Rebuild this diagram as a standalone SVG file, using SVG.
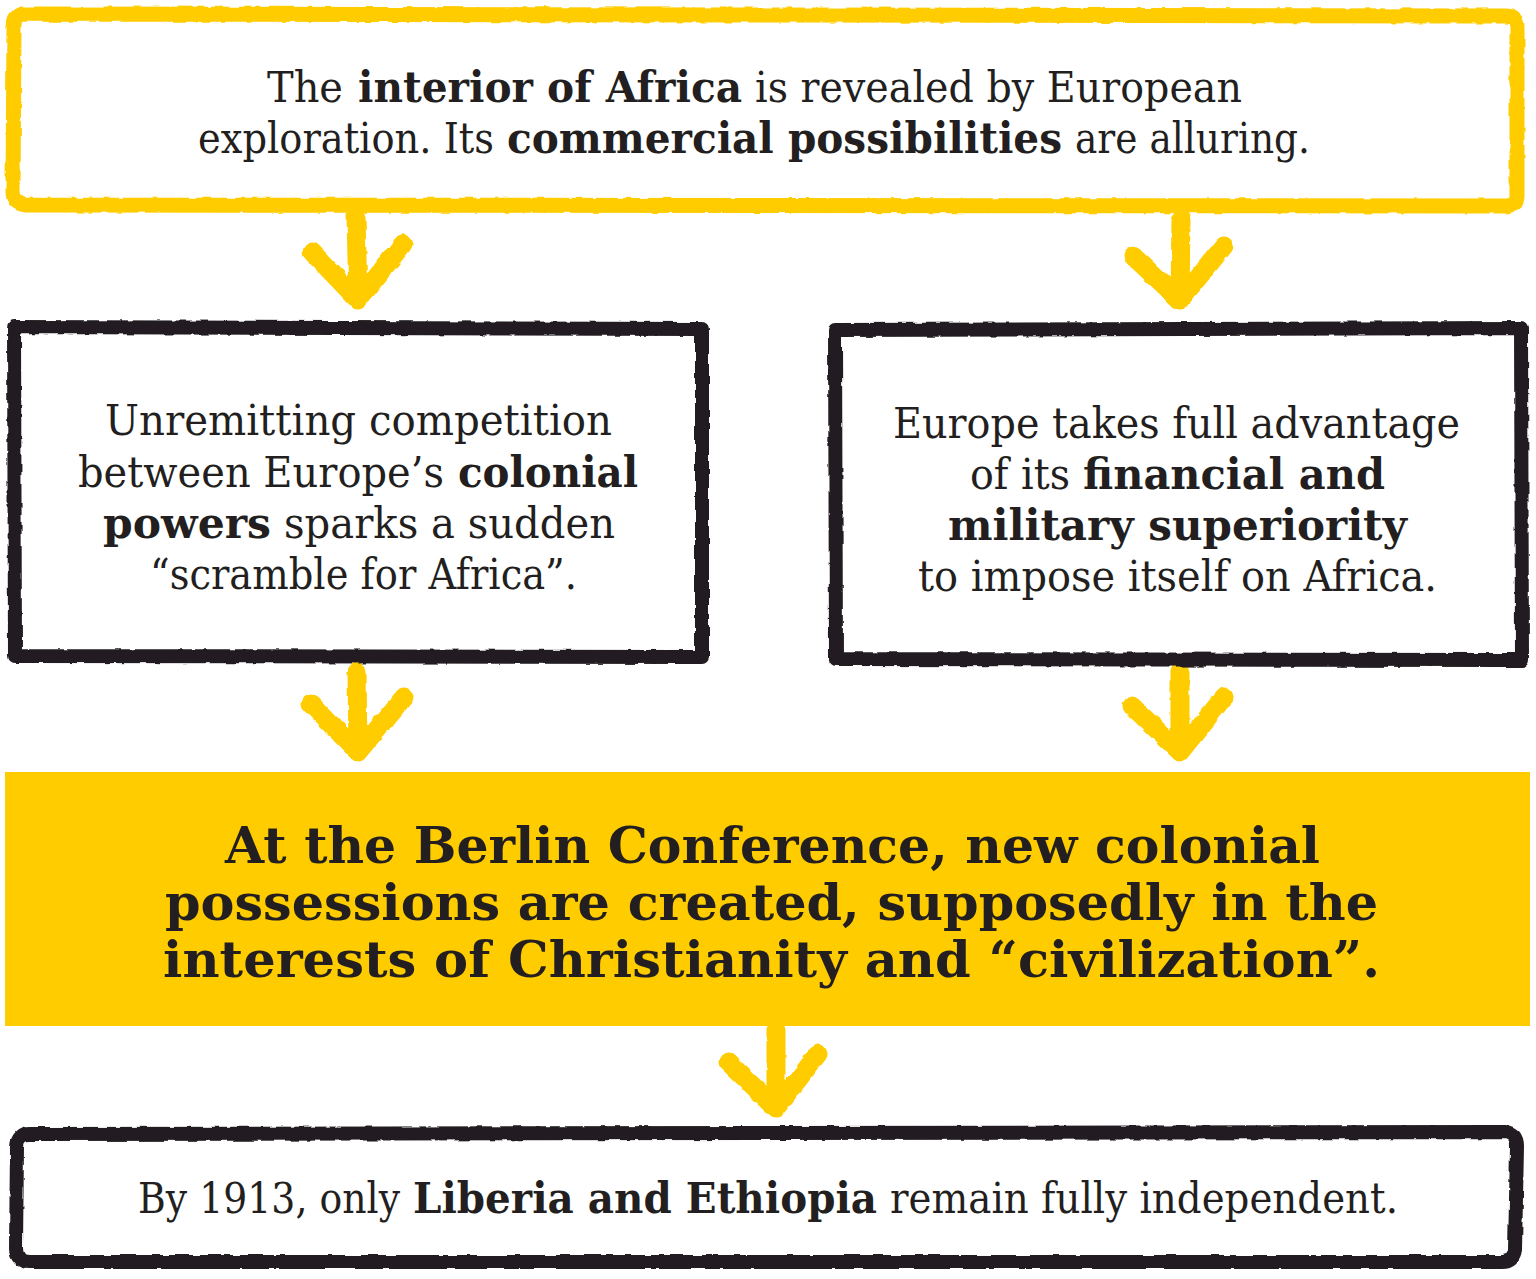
<svg xmlns="http://www.w3.org/2000/svg" width="1536" height="1279" viewBox="0 0 1536 1279">
<defs>
<filter id="rough" x="-5%" y="-5%" width="110%" height="110%">
<feTurbulence type="fractalNoise" baseFrequency="0.08" numOctaves="2" seed="3" result="n"/>
<feDisplacementMap in="SourceGraphic" in2="n" scale="4" xChannelSelector="R" yChannelSelector="G"/>
</filter>
<style>
.ybox{fill:#fff;stroke:#FFCC00;stroke-width:15;stroke-linejoin:round}
.kbox{fill:#fff;stroke:#231F20;stroke-width:14;stroke-linejoin:round}
.arr{fill:none;stroke:#FFCC00;stroke-width:19;stroke-linecap:round;stroke-linejoin:round}
.t{font-family:"DejaVu Serif","Liberation Serif",serif;font-size:43px;fill:#231F20}
.b{font-weight:bold}
.tb{font-family:"DejaVu Serif","Liberation Serif",serif;font-size:51px;font-weight:bold;fill:#231F20}
</style>
</defs>
<rect width="1536" height="1279" fill="#fff"/>

<g id="connectors" filter="url(#rough)">
<path class="arr" d="M356 216 L358 300 M312 252 L358 300 L403 244"/>
<path class="arr" d="M1181 220 L1180 300 M1133 256 L1180 300 L1224 246"/>
<path class="arr" d="M357 672 L358 752 M311 704 L358 752 L404 697"/>
<path class="arr" d="M1180 672 L1180 752 M1132 706 L1180 752 L1224 697"/>
<path class="arr" d="M776 1030 L776 1108 M728 1062 L776 1108 L818 1054"/>
</g>

<g id="node-top">
<path class="ybox" filter="url(#rough)" d="M24 14 L1506 16 Q1517 16 1517 27 L1517 196 Q1517 205 1506 206 L26 205 Q13 204 13 192 L14 26 Q14 14 24 14 Z"/>
<text class="t" x="267" y="102" textLength="76" lengthAdjust="spacingAndGlyphs">The</text>
<text class="t b" x="358" y="102" textLength="384" lengthAdjust="spacingAndGlyphs">interior of Africa</text>
<text class="t" x="755" y="102" textLength="487" lengthAdjust="spacingAndGlyphs">is revealed by European</text>
<text class="t" x="198" y="153" textLength="296" lengthAdjust="spacingAndGlyphs">exploration. Its</text>
<text class="t b" x="507" y="153" textLength="555" lengthAdjust="spacingAndGlyphs">commercial possibilities</text>
<text class="t" x="1075" y="153" textLength="235" lengthAdjust="spacingAndGlyphs">are alluring.</text>
</g>

<g id="node-left">
<path class="kbox" filter="url(#rough)" d="M14 327 L702 329 L702 657 L15 656 Z"/>
<text class="t" x="105" y="435" textLength="507" lengthAdjust="spacingAndGlyphs">Unremitting competition</text>
<text class="t" x="78" y="487" textLength="366" lengthAdjust="spacingAndGlyphs">between Europe’s</text>
<text class="t b" x="458" y="487" textLength="180" lengthAdjust="spacingAndGlyphs">colonial</text>
<text class="t b" x="103" y="538" textLength="168" lengthAdjust="spacingAndGlyphs">powers</text>
<text class="t" x="284" y="538" textLength="331" lengthAdjust="spacingAndGlyphs">sparks a sudden</text>
<text class="t" x="150" y="589" textLength="427" lengthAdjust="spacingAndGlyphs">“scramble for Africa”.</text>
</g>

<g id="node-right">
<path class="kbox" filter="url(#rough)" d="M835 330 L1521 328 L1522 660 L836 659 Z"/>
<text class="t" x="893" y="438" textLength="567" lengthAdjust="spacingAndGlyphs">Europe takes full advantage</text>
<text class="t" x="970" y="489" textLength="100" lengthAdjust="spacingAndGlyphs">of its</text>
<text class="t b" x="1083" y="489" textLength="302" lengthAdjust="spacingAndGlyphs">financial and</text>
<text class="t b" x="948" y="540" textLength="459" lengthAdjust="spacingAndGlyphs">military superiority</text>
<text class="t" x="918" y="591" textLength="519" lengthAdjust="spacingAndGlyphs">to impose itself on Africa.</text>
</g>

<g id="node-berlin">
<rect x="5" y="772" width="1525" height="254" fill="#FFCC00"/>
<text class="tb" x="225" y="863" textLength="1095" lengthAdjust="spacingAndGlyphs">At the Berlin Conference, new colonial</text>
<text class="tb" x="165" y="920" textLength="1213" lengthAdjust="spacingAndGlyphs">possessions are created, supposedly in the</text>
<text class="tb" x="163" y="977" textLength="1217" lengthAdjust="spacingAndGlyphs">interests of Christianity and “civilization”.</text>
</g>

<g id="node-bottom">
<path class="kbox" filter="url(#rough)" d="M30 1134 L1505 1132 Q1517 1133 1517 1146 L1515 1250 Q1514 1262 1502 1262 L30 1262 Q16 1262 16 1248 L17 1147 Q17 1134 30 1134 Z"/>
<text class="t" x="138" y="1213" textLength="262" lengthAdjust="spacingAndGlyphs">By 1913, only</text>
<text class="t b" x="413" y="1213" textLength="464" lengthAdjust="spacingAndGlyphs">Liberia and Ethiopia</text>
<text class="t" x="890" y="1213" textLength="508" lengthAdjust="spacingAndGlyphs">remain fully independent.</text>
</g>
</svg>
